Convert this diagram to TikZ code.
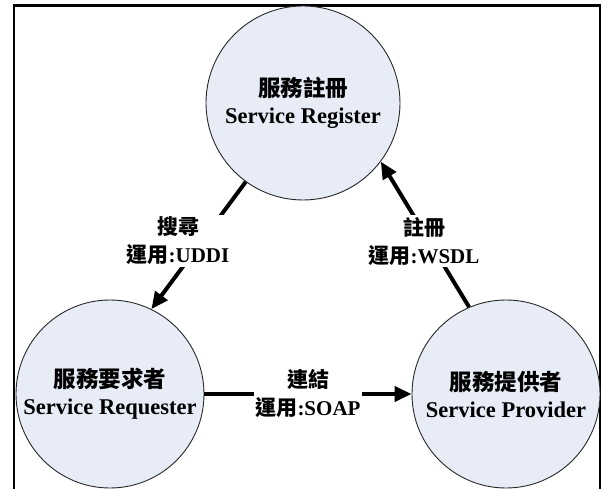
\documentclass[tikz,border=0pt]{standalone}
\usepackage{fontspec}
\setmainfont{Liberation Serif}
\newfontfamily\cjk{Noto Sans CJK TC}
\usetikzlibrary{arrows.meta}
\definecolor{bubble}{RGB}{231,236,246}
\definecolor{rim}{RGB}{40,40,40}
\tikzset{
  role/.style={circle, draw=rim, line width=0.9pt, fill=bubble, minimum size=#1,
    inner sep=0pt, align=center, font=\fontsize{22.5}{27}\selectfont\bfseries},
  role/.default=188pt,
  flow/.style={line width=4pt, -{Triangle[length=17pt,width=15pt]}},
  tag/.style={fill=white, inner sep=1.5pt, align=center,
    font=\fontsize{21}{28}\selectfont\bfseries}
}
\begin{document}
\begin{tikzpicture}[x=1pt, y=-1pt]
  \useasboundingbox (0,0) rectangle (603,489);
  % open frame running off the bottom edge
  \draw[line width=2.6pt] (14,495) -- (14,5.5) -- (600,5.5) -- (600,495);

  % the three roles
  \node[role=194pt] (reg)  at (303,103) {{\cjk 服務註冊}\\Service Register};
  \node[role]       (req)  at (110,394) {{\cjk 服務要求者}\\Service Requester};
  \node[role]       (prov) at (506,394) {{\cjk 服務提供者}\\Service Provider};

  % interactions
  \draw[flow] (reg.234) -- (req.64);
  \draw[flow] (prov.113.6) -- (reg.323.6);
  \draw[flow] (req.east) -- (prov.west);

  % interaction labels
  \node[tag] (find) at (178,241) {{\cjk 搜尋}\\{\cjk 運用}:UDDI};
  \node[tag] (publ) at (424,241) {{\cjk 註冊}\\{\cjk 運用}:WSDL};
  \node[tag] (bind) at (308,394) {{\cjk 連結}\\{\cjk 運用}:SOAP};
\end{tikzpicture}
\end{document}
